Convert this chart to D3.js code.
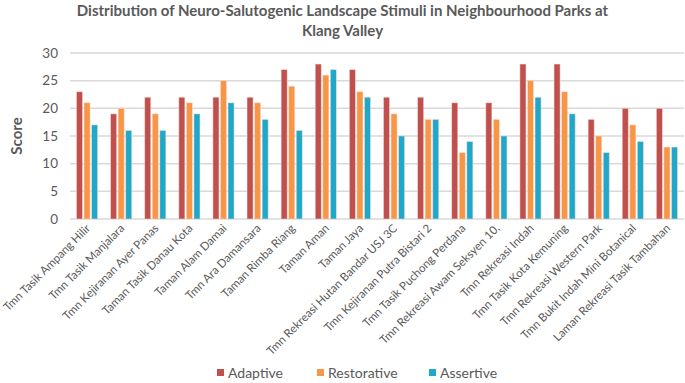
<!DOCTYPE html>
<html>
<head>
<meta charset="utf-8">
<script src="https://cdn.jsdelivr.net/npm/d3@7"></script>
<style>
body{margin:0;background:#fff;}
text{font-family:Lato,"Liberation Sans",sans-serif;}
</style>
</head>
<body>
<div id="chart"></div>
<script>
var parks=["Tmn Tasik Ampang Hilir","Tmn Tasik Manjalara","Tmn Kejiranan Ayer Panas","Taman Tasik Danau Kota",
"Taman Alam Damai","Tmn Ara Damansara","Taman Rimba Riang","Taman Aman","Taman Jaya",
"Tmn Rekreasi Hutan Bandar USJ 3C","Tmn Kejiranan Putra Bistari 2","Tmn Tasik Puchong Perdana",
"Tmn Rekreasi Awam Seksyen 10,","Tmn Rekreasi Indah","Tmn Tasik Kota Kemuning","Tmn Rekreasi Western Park",
"Tmn Bukit Indah Mini Botanical","Laman Rekreasi Tasik Tambahan"];
var series=["Adaptive","Restorative","Assertive"];
var adaptive=[23,19,22,22,22,22,27,28,27,22,22,21,21,28,28,18,20,20];
var restorative=[21,20,19,21,25,21,24,26,23,19,18,12,18,25,23,15,17,13];
var assertive=[17,16,16,19,21,18,16,27,22,15,18,14,15,22,19,12,14,13];
var yTicks=[0,5,10,15,20,25,30];
var colors=["#c0504d","#f79646","#21a8c8"];

var width=685,height=383;
var margin={top:53,right:1,bottom:164,left:70};

var svg=d3.select("#chart").append("svg")
    .attr("width",width)
    .attr("height",height)

var x=d3.scaleBand()
    .domain(parks)
    .range([margin.left,width-margin.right])
    .paddingInner(0.38)
    .paddingOuter(0.19)
var xs=d3.scaleBand()
    .domain(series)
    .range([0,x.bandwidth()])
    .paddingInner(0.2)
var y=d3.scaleLinear()
    .domain([0,30])
    .range([height-margin.bottom,margin.top])

// grid
svg.append("g")
    .selectAll("line")
    .data(yTicks)
    .enter()
    .append("line")
    .attr("x1",margin.left)
    .attr("x2",width-margin.right)
    .attr("y1",function(d){return y(d)})
    .attr("y2",function(d){return y(d)})
    .attr("stroke","#d9d9d9")
    .attr("stroke-width",1.5)

var yAxis=d3.axisLeft(y).tickValues(yTicks).tickSize(0).tickPadding(12)
var gy=svg.append("g")
    .attr("transform","translate("+margin.left+",0)")
    .call(yAxis)
gy.select(".domain").remove()
gy.selectAll("text")
    .attr("fill","#595959")
    .style("font-size","13.5px")
    .style("font-family","Lato, sans-serif")

// bars
var vals=[adaptive,restorative,assertive];
series.forEach(function(s,j){
    svg.append("g")
        .selectAll("rect")
        .data(vals[j])
        .enter()
        .append("rect")
        .attr("x",function(d,i){return x(parks[i])+xs(s)})
        .attr("y",function(d){return y(d)})
        .attr("width",xs.bandwidth())
        .attr("height",function(d){return y(0)-y(d)})
        .attr("fill",colors[j])
        .attr("stroke","#fbe3dc")
        .attr("stroke-opacity",0.6)
        .attr("stroke-width",0.8)
})

// x labels
var xAxis=d3.axisBottom(x).tickSize(0).tickPadding(0)
var gx=svg.append("g")
    .attr("transform","translate(0,"+y(0)+")")
    .call(xAxis)
gx.select(".domain").remove()
gx.selectAll("text")
    .attr("fill","#595959")
    .style("font-size","11.5px")
    .style("font-family","Lato, sans-serif")
    .attr("text-anchor","end")
    .attr("dy",null)
    .attr("y",0)
    .attr("transform","translate(4,10) rotate(-45)")

// title
svg.append("text")
    .attr("x",width/2)
    .attr("y",16)
    .attr("text-anchor","middle")
    .attr("fill","#595959")
    .style("font-size","15px")
    .style("font-weight","bold")
    .text("Distribution of Neuro-Salutogenic Landscape Stimuli in Neighbourhood Parks at")
svg.append("text")
    .attr("x",width/2)
    .attr("y",36)
    .attr("text-anchor","middle")
    .attr("fill","#595959")
    .style("font-size","15px")
    .style("font-weight","bold")
    .text("Klang Valley")

svg.append("text")
    .attr("transform","translate(22,136) rotate(-90)")
    .attr("text-anchor","middle")
    .attr("fill","#595959")
    .style("font-size","15px")
    .style("font-weight","bold")
    .text("Score")

// legend
var legendX=[217,317,429];
var lg=svg.append("g")
    .selectAll("g")
    .data(series)
    .enter()
    .append("g")
    .attr("transform",function(d,i){return "translate("+legendX[i]+",373)"})
lg.append("rect")
    .attr("x",0).attr("y",-4)
    .attr("width",7).attr("height",7)
    .attr("fill",function(d,i){return colors[i]})
lg.append("text")
    .attr("x",11)
    .attr("y",4.5)
    .attr("fill","#595959")
    .style("font-size","14px")
    .text(function(d){return d})
</script>
</body>
</html>
